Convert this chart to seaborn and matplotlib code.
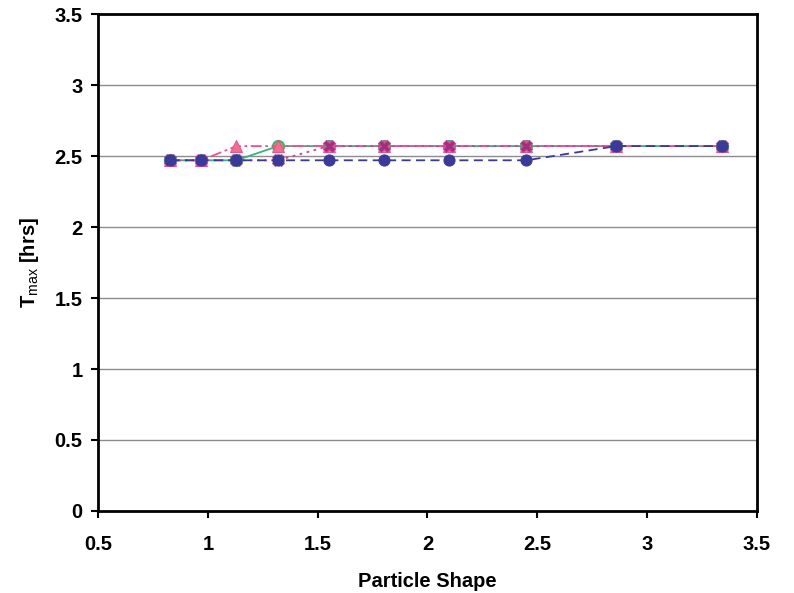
import matplotlib
matplotlib.use("Agg")
import matplotlib.pyplot as plt
import seaborn as sns

# Data
shape = [0.83, 0.97, 1.13, 1.32, 1.55, 1.80, 2.10, 2.45, 2.86, 3.34]
s_green = [2.47, 2.47, 2.47, 2.57, 2.57, 2.57, 2.57, 2.57, 2.57, 2.57]
s_pink = [2.47, 2.47, 2.57, 2.57, 2.57, 2.57, 2.57, 2.57, 2.57, 2.57]
s_magenta = [2.47, 2.47, 2.47, 2.47, 2.57, 2.57, 2.57, 2.57, 2.57, 2.57]
s_navy = [2.47, 2.47, 2.47, 2.47, 2.47, 2.47, 2.47, 2.47, 2.57, 2.57]

xticks = [0.5, 1, 1.5, 2, 2.5, 3, 3.5]
yticks = [0, 0.5, 1, 1.5, 2, 2.5, 3, 3.5]

sns.set_theme(style="white")
plt.rcParams['font.family'] = ['Liberation Sans', 'DejaVu Sans']
plt.rcParams['mathtext.fontset'] = 'custom'
plt.rcParams['mathtext.rm'] = 'Liberation Sans'
plt.rcParams['mathtext.bf'] = 'Liberation Sans:bold'
plt.rcParams['text.color'] = 'black'
plt.rcParams['axes.labelcolor'] = 'black'
plt.rcParams['xtick.color'] = 'black'
plt.rcParams['ytick.color'] = 'black'

fig = plt.figure(figsize=(7.94, 5.93), dpi=100)
ax = fig.add_axes([0.1234, 0.1383, 0.830, 0.838])

for y in yticks[1:-1]:
    ax.axhline(y, color='#8c8c8c', lw=1.0, zorder=0)

sns.lineplot(x=shape, y=s_green, ax=ax, color='#2DB87A', lw=1.3, marker='o',
             markersize=8, markerfacecolor='#E8904A', markeredgecolor='#2DB87A',
             markeredgewidth=1.5, zorder=3)
sns.lineplot(x=shape, y=s_pink, ax=ax, color='#F0508C', lw=1.3, marker='^',
             markersize=8, markerfacecolor='#F07090', markeredgecolor='#F0508C',
             zorder=4)
ax.lines[-1].set_dashes([6, 2, 1.5, 2])
sns.lineplot(x=shape, y=s_magenta, ax=ax, color='#D040A0', lw=1.3, marker='X',
             markersize=9, markerfacecolor='#A0307A', markeredgecolor='#D040A0',
             zorder=5)
ax.lines[-1].set_dashes([1.5, 2.5])
sns.lineplot(x=shape, y=s_navy, ax=ax, color='#3A3A9A', lw=1.3, marker='o',
             markersize=8, markerfacecolor='#3A3A9A', markeredgecolor='#3A3A9A',
             zorder=6)
ax.lines[-1].set_dashes([5, 3])

ax.set_xlim(0.5, 3.5)
ax.set_ylim(0, 3.5)
ax.set_xticks(xticks)
ax.set_yticks(yticks)
ax.set_xticklabels([f"{v:g}" for v in xticks], fontsize=14.5, fontweight='bold')
ax.set_yticklabels([f"{v:g}" for v in yticks], fontsize=14.5, fontweight='bold')
ax.tick_params(axis='both', direction='out', length=5, width=1.5,
               bottom=True, left=True)
ax.tick_params(axis='x', pad=12)
ax.tick_params(axis='y', pad=6)
for sp in ax.spines.values():
    sp.set_visible(True)
    sp.set_color('black')
    sp.set_linewidth(2)

ax.set_xlabel("Particle Shape", fontsize=14.5, fontweight='bold', labelpad=13)
ax.set_ylabel(r"T$_{\mathrm{max}}$ [hrs]", fontsize=14.5, fontweight='bold', labelpad=10)
if ax.get_legend():
    ax.get_legend().remove()

fig.savefig("out.png", dpi=100)
